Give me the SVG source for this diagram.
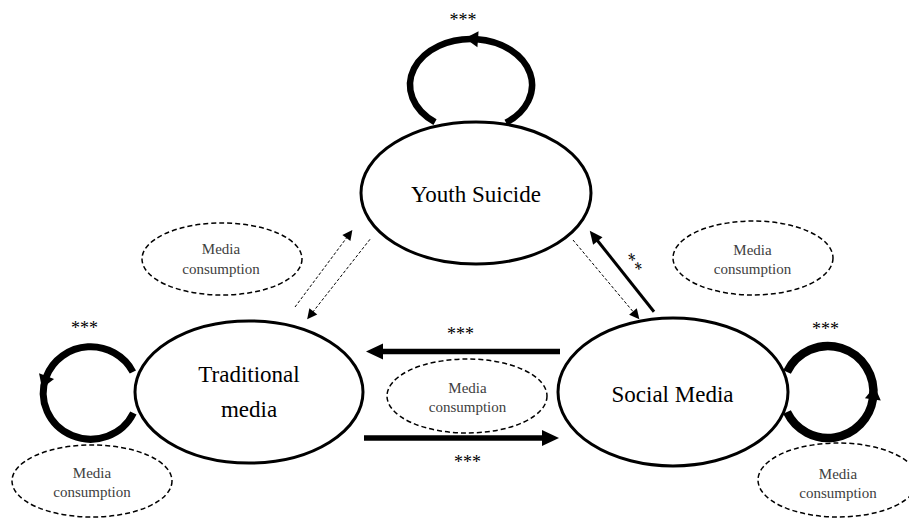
<svg xmlns="http://www.w3.org/2000/svg" width="909" height="518" viewBox="0 0 909 518">
<defs>
<marker id="ahBig" markerUnits="userSpaceOnUse" markerWidth="20" markerHeight="20" refX="1" refY="8" orient="auto" overflow="visible">
<path d="M0,0 L17,8 L0,16 Z" fill="#000"/>
</marker>
<marker id="ahLoop" markerUnits="userSpaceOnUse" markerWidth="20" markerHeight="20" refX="1" refY="8" orient="auto" overflow="visible">
<path d="M0,0 L13,8 L0,16 Z" fill="#000"/>
</marker>
<marker id="ahMid" markerUnits="userSpaceOnUse" markerWidth="16" markerHeight="14" refX="1" refY="6" orient="auto" overflow="visible">
<path d="M0,0 L13,6 L0,12 Z" fill="#000"/>
</marker>
<marker id="ahSmall" markerUnits="userSpaceOnUse" markerWidth="12" markerHeight="12" refX="1" refY="5" orient="auto" overflow="visible">
<path d="M0,0 L10,5 L0,10 Z" fill="#000"/>
</marker>
</defs>
<style>
.node{fill:#fff;stroke:#000;stroke-width:3}
.mc{fill:#fff;stroke:#000;stroke-width:1.5;stroke-dasharray:5,3}
.lbl{font-family:"Liberation Serif","Times New Roman",serif;font-size:23px;fill:#000;text-anchor:middle}
.mct{font-family:"Liberation Serif","Times New Roman",serif;font-size:15px;fill:#404040;text-anchor:middle}
.sig{font-family:"Liberation Serif","Times New Roman",serif;font-size:18px;fill:#000;text-anchor:middle}
.loop{fill:none;stroke:#000;stroke-width:7}
.thick{fill:none;stroke:#000;stroke-width:5.5}
.solid{fill:none;stroke:#000;stroke-width:3}
.dash{fill:none;stroke:#000;stroke-width:1;stroke-dasharray:3,2}
</style>

<g id="connectors">
<!-- Youth Suicide self loop -->
<path class="loop" style="stroke-width:6.5" d="M506,122.7 A61,46 0 0 0 477,39.2" marker-end="url(#ahLoop)"/>
<path class="loop" style="stroke-width:6.5" d="M477,39.2 A61,46 0 0 0 435,122.1"/>
<!-- Traditional media self loop -->
<path class="loop" d="M132.9,372 A47.4,46.2 0 0 0 46.2,377" marker-end="url(#ahLoop)"/>
<path class="loop" d="M46.2,377 A47.4,46.2 0 0 0 133.4,413"/>
<!-- Social Media self loop -->
<path class="loop" style="stroke-width:8.5" d="M787,412 A45.5,46 0 0 0 873,398.5" marker-end="url(#ahLoop)"/>
<path class="loop" style="stroke-width:8.5" d="M873,398.5 A45.5,46 0 0 0 787,372"/>
<!-- Social -> Traditional -->
<path class="thick" d="M560,351.5 L382,351.5" marker-end="url(#ahBig)"/>
<!-- Traditional -> Social -->
<path class="thick" d="M364,438 L543,438" marker-end="url(#ahBig)"/>
<!-- Traditional <-> Youth dashed -->
<path class="dash" d="M295,307 L347,237.3" marker-end="url(#ahSmall)"/>
<path class="dash" d="M370,239.3 L312.7,312.2" marker-end="url(#ahSmall)"/>
<!-- Youth -> Social dashed -->
<path class="dash" d="M573,240 L633.6,312.3" marker-end="url(#ahSmall)"/>
<!-- Social -> Youth solid -->
<path class="solid" d="M654,311.7 L597.2,240.2" marker-end="url(#ahMid)"/>
<!-- significance labels -->
<text class="sig" x="463" y="26">***</text>
<text class="sig" x="84.5" y="334">***</text>
<text class="sig" x="825.5" y="335">***</text>
<text class="sig" x="460.5" y="340">***</text>
<text class="sig" x="467.5" y="468">***</text>
<text class="sig" x="636" y="271" transform="rotate(55 636 262)" style="letter-spacing:2px">**</text>
</g>

<g id="youth-suicide">
<ellipse class="node" cx="476" cy="193" rx="115" ry="71"/>
<text class="lbl" x="476" y="202">Youth Suicide</text>
</g>

<g id="traditional-media">
<ellipse class="node" cx="249" cy="392" rx="114" ry="71"/>
<text class="lbl" x="249" y="382">Traditional</text>
<text class="lbl" x="249" y="417">media</text>
</g>

<g id="social-media">
<ellipse class="node" cx="673" cy="392" rx="115" ry="74"/>
<text class="lbl" x="672.5" y="402">Social Media</text>
</g>

<g id="mc-top-left">
<ellipse class="mc" cx="222" cy="259" rx="80" ry="36"/>
<text class="mct" x="221" y="254">Media</text>
<text class="mct" x="221" y="274">consumption</text>
</g>

<g id="mc-top-right">
<ellipse class="mc" cx="753" cy="258" rx="80" ry="37"/>
<text class="mct" x="752.5" y="255">Media</text>
<text class="mct" x="752.5" y="273.5">consumption</text>
</g>

<g id="mc-middle">
<ellipse class="mc" cx="467" cy="396" rx="80" ry="37"/>
<text class="mct" x="467.5" y="393">Media</text>
<text class="mct" x="467.5" y="412">consumption</text>
</g>

<g id="mc-bottom-left">
<ellipse class="mc" cx="92" cy="481" rx="80" ry="36"/>
<text class="mct" x="92" y="478">Media</text>
<text class="mct" x="92" y="497">consumption</text>
</g>

<g id="mc-bottom-right">
<ellipse class="mc" cx="838" cy="480" rx="80" ry="37"/>
<text class="mct" x="838" y="479">Media</text>
<text class="mct" x="838" y="498">consumption</text>
</g>
</svg>
